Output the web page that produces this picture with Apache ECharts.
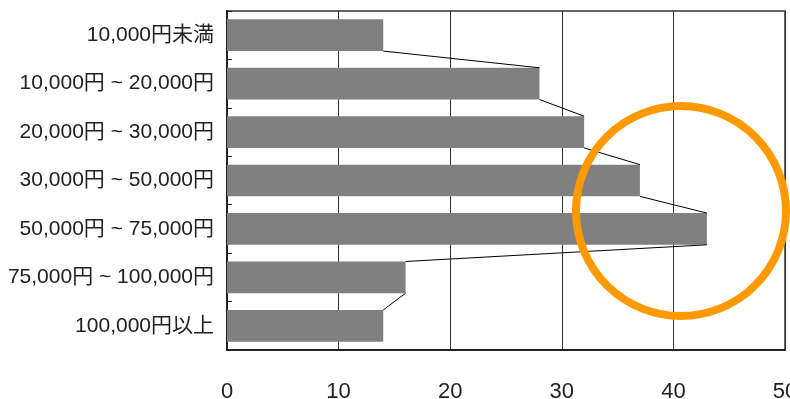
<!DOCTYPE html>
<html>
<head>
<meta charset="utf-8">
<script src="https://cdn.jsdelivr.net/npm/echarts@6/dist/echarts.min.js"></script>
<style>
html,body{margin:0;padding:0;background:#fff;}
#chart{width:790px;height:399px;}
</style>
</head>
<body>
<div id="chart"></div>
<script>
const categories = [
  '10,000円未満',
  '10,000円 ~ 20,000円',
  '20,000円 ~ 30,000円',
  '30,000円 ~ 50,000円',
  '50,000円 ~ 75,000円',
  '75,000円 ~ 100,000円',
  '100,000円以上'
];
const values = [14, 28, 32, 37, 43, 16, 14];
const xTicks = [0, 10, 20, 30, 40, 50];

const BAR_RATIO = 0.655;
const FONT = '"Liberation Sans", Arial, "Noto Sans CJK JP", sans-serif';

const chart = echarts.init(document.getElementById('chart'), null, {renderer: 'canvas'});

chart.setOption({
  animation: false,
  backgroundColor: '#fff',
  grid: {
    left: 227, right: 5, top: 11, bottom: 49,
    show: true, borderColor: '#333', borderWidth: 1.5,
    containLabel: false,
    outerBoundsMode: 'none'
  },
  xAxis: {
    type: 'value',
    min: xTicks[0],
    max: xTicks[xTicks.length - 1],
    interval: 10,
    axisLine: {show: true, lineStyle: {color: '#222', width: 2}},
    axisTick: {show: false},
    splitLine: {show: true, lineStyle: {color: '#333', width: 1}},
    axisLabel: {
      color: '#222', fontSize: 22, fontFamily: FONT, margin: 31,
      showMaxLabel: true, showMinLabel: true, hideOverlap: false
    }
  },
  yAxis: {
    type: 'category',
    data: categories,
    inverse: true,
    axisLine: {show: true, lineStyle: {color: '#222', width: 2}},
    axisTick: {show: true, inside: true, length: 5, lineStyle: {color: '#222', width: 1}},
    splitLine: {show: false},
    axisLabel: {color: '#222', fontSize: 21, fontFamily: FONT, margin: 13}
  },
  series: [
    {
      type: 'bar',
      data: values,
      barWidth: (BAR_RATIO * 100) + '%',
      itemStyle: {color: '#808080'},
      z: 2
    },
    {
      type: 'custom',
      data: values.map((v, i) => [v, i]),
      z: 3,
      renderItem: function (params, api) {
        const i = params.dataIndex;
        if (i >= values.length - 1) return null;
        const band = api.size([0, 1])[1];
        const h = band * BAR_RATIO / 2;
        const p1 = api.coord([values[i], i]);
        const p2 = api.coord([values[i + 1], i + 1]);
        return {
          type: 'line',
          shape: {x1: p1[0], y1: p1[1] + h, x2: p2[0], y2: p2[1] - h},
          style: {stroke: '#000', lineWidth: 1}
        };
      }
    }
  ],
  graphic: [
    {
      type: 'circle',
      shape: {cx: 681, cy: 211, r: 105},
      style: {fill: 'none', stroke: '#FF9900', lineWidth: 8},
      z: 100
    }
  ]
});
</script>
</body>
</html>
